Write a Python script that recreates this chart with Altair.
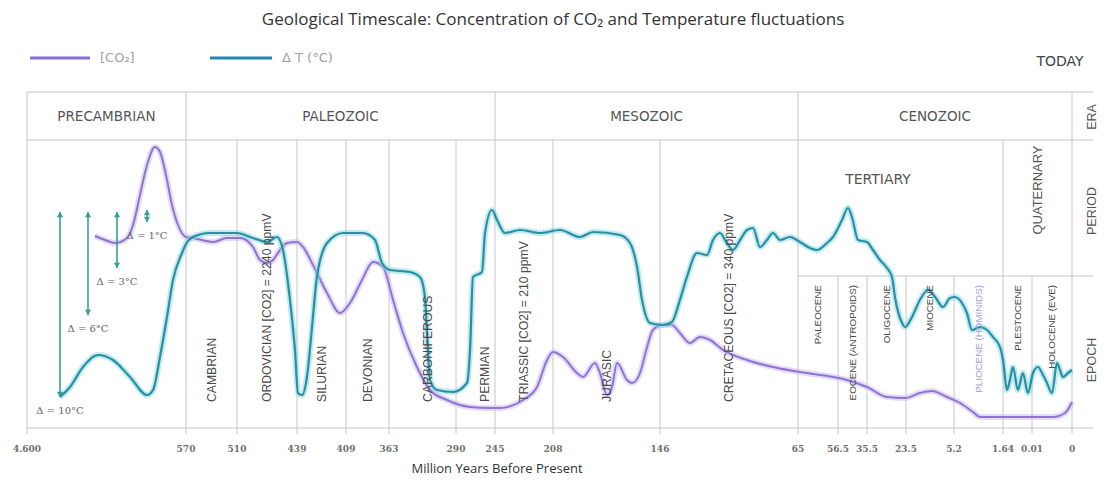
import altair as alt
import numpy as np
import pandas as pd

# ---------------- data ----------------
TICK_MA = [4600, 570, 510, 439, 409, 363, 290, 245, 208, 146, 65, 56.5, 35.5, 23.5, 5.2, 1.64, 0.01, 0]
TICK_LABELS = ["4.600", "570", "510", "439", "409", "363", "290", "245", "208", "146",
               "65", "56.5", "35.5", "23.5", "5.2", "1.64", "0.01", "0"]

ERAS = ["PRECAMBRIAN", "PALEOZOIC", "MESOZOIC", "CENOZOIC"]
ERA_START = [4600, 570, 245, 65]
ERA_END = [570, 245, 65, 0]

PERIODS = ["CAMBRIAN", "ORDOVICIAN [CO2] = 2240 ppmV", "SILURIAN", "DEVONIAN", "CARBONIFEROUS",
           "PERMIAN", "TRIASSIC [CO2] = 210 ppmV", "JURASIC", "CRETACEOUS [CO2] = 340 ppmV"]
PERIOD_START = [570, 510, 439, 409, 363, 290, 245, 208, 146]
PERIOD_END = [510, 439, 409, 363, 290, 245, 208, 146, 65]

CENOZOIC_PERIODS = ["TERTIARY", "QUATERNARY"]
CENOZOIC_PERIOD_START = [65, 1.64]
CENOZOIC_PERIOD_END = [1.64, 0]

EPOCHS = ["PALEOCENE", "EOCENE (ANTROPOIDS)", "OLIGOCENE", "MIOCENE",
          "PLIOCENE (HOMINIDS)", "PLESTOCENE", "HOLOCENE (EVE)"]
EPOCH_START = [65, 56.5, 35.5, 23.5, 5.2, 1.64, 0.01]
EPOCH_END = [56.5, 35.5, 23.5, 5.2, 1.64, 0.01, 0]

# [CO2] curve (million years before present, relative level)
CO2_MA = [2876, 2623, 2370, 2065, 1913, 1736, 1558, 1356, 1229, 1077, 925, 773, 570, 561.8, 538.2,
          521.8, 506.5, 491.1, 482.8, 474.5, 467.4, 459.1, 450.8, 439, 435.3, 429.2, 420.6, 412.7,
          404.7, 391.9, 380.1, 369.4, 358.6, 347.7, 332.5, 318.3, 299.8, 273.8, 250.8, 241.8, 227.1,
          218.2, 211.8, 208, 202.2, 194.1, 190.6, 183.7, 180.8, 176.7, 173.8, 170.9, 165.1, 162.2,
          157.6, 153.5, 150.1, 144.8, 139, 134.3, 128.4, 122.5, 116.6, 109, 94.9, 79.7, 64.6, 50,
          35.5, 29.35, 23.8, 18.2, 13.6, 7.9, 4.76, 3.82, 3.31, 1.08, 0.00475, 0.00175, 0]
CO2_LEVEL = [19.2, 18.8, 18.5, 19.0, 20.3, 23.3, 26.3, 28.1, 27.6, 25.3, 22.3, 20.3, 19.1, 19.0, 18.6,
             19.0, 19.0, 18.1, 16.8, 16.5, 16.8, 17.8, 18.5, 18.6, 18.1, 16.3, 13.5, 11.5,
             12.5, 14.8, 16.6, 16.1, 12.8, 9.5, 6.1, 3.8, 2.8, 2.1, 2.0, 2.0, 2.8,
             4.1, 6.8, 7.6, 7.1, 5.5, 5.1, 6.5, 5.5, 3.3, 4.1, 6.5, 4.8, 4.5,
             5.5, 8.1, 9.8, 10.3, 10.3, 9.5, 8.5, 9.1, 8.8, 7.8, 6.8, 6.1, 5.6, 4.8,
             4.1, 3.1, 3.0, 3.5, 3.7, 3.1, 2.5, 1.6, 1.1, 1.1, 1.1, 1.5, 2.6]

# Delta T curve (million years before present, relative level)
DT_MA = [3764, 3510, 3181, 2800, 2420, 1989, 1558, 1406, 1229, 1052, 899, 671, 570, 561.8, 541.8,
         510, 491.1, 474.5, 462.7, 455.6, 447.3, 441.4, 438.4, 435.9, 432.9, 429.8, 426.8, 420.6,
         410.8, 390.8, 378, 370.5, 361.9, 340.1, 329.2, 323.8, 321.6, 318.3, 310.7, 293.3, 277.3,
         273.8, 270.4, 260, 256.5, 248.5, 243.7, 238.6, 229, 216.3, 203.9, 192.4, 184.8, 169.2,
         163.4, 159.3, 156.4, 151.8, 144.2, 139, 134.3, 130.2, 124.3, 118.4, 114.9, 110.8, 106.7,
         103.1, 99, 94.9, 91.4, 87.3, 83.2, 79.7, 75.6, 69.7, 64.6, 62.45, 60.96, 58.84, 57.56,
         53.6, 49.26, 46.4, 42, 35.5, 33.65, 31.5, 29.35, 27.8, 26.9, 24.7, 23.8, 21.2, 18.2, 15.1,
         12.4, 9.4, 6.7, 5.13, 4.62, 4.26, 3.89, 3.31, 2.8, 2.37, 1.86, 1.64, 1.415, 1.25, 1.08,
         0.80, 0.52, 0.24, 0.00975, 0.0085, 0.00725, 0.00625, 0.005, 0.00375, 0.003, 0.0023,
         0.001, 0]
DT_LEVEL = [3.1, 4.1, 6.1, 7.3, 6.8, 5.1, 3.3, 3.8, 7.1, 11.1, 14.8, 17.5, 18.4, 19.1, 19.5,
            19.5, 19.0, 18.6, 19.1, 17.8, 12.8, 7.8, 3.5, 3.3, 5.1, 10.1, 15.1, 18.5,
            19.5, 19.5, 18.8, 16.5, 15.8, 15.6, 15.1, 13.1, 9.5, 4.8, 3.8, 3.6, 4.5,
            7.8, 15.1, 15.6, 19.5, 21.8, 20.8, 19.5, 19.8, 19.5, 19.8, 19.1, 19.6, 19.3,
            18.5, 16.1, 12.8, 10.5, 10.3, 10.6, 12.8, 15.1, 17.5, 17.3, 18.8, 19.5, 18.5,
            17.8, 18.8, 19.8, 20.0, 18.1, 18.8, 19.5, 18.8, 19.1, 18.6, 18.0, 17.8, 18.5, 19.1,
            20.8, 22.0, 21.1, 18.8, 18.6, 17.8, 16.8, 16.0, 15.1, 13.1, 10.5, 10.1, 11.1, 12.8, 13.8,
            13.1, 12.1, 13.0, 13.1, 12.5, 11.5, 9.8, 10.1, 9.8, 9.1, 8.1, 6.8, 3.8, 4.8, 6.1,
            3.8, 5.5, 3.5, 5.5, 6.1, 5.3, 4.5, 3.5, 6.5, 5.8, 5.1,
            5.5, 5.8]

DELTA_LABELS = ["Δ = 10°C", "Δ = 6°C", "Δ = 3°C", "Δ = 1°C"]
DELTA_MA = [3764, 3054, 2319, 1558]
DELTA_TOP = [21.6, 21.6, 21.6, 21.8]
DELTA_BOTTOM = [3.1, 11.3, 16.0, 20.6]

TITLE = "Geological Timescale: Concentration of CO\u2082 and Temperature fluctuations"
X_TITLE = "Million Years Before Present"
ROW_NAMES = ["ERA", "PERIOD", "EPOCH"]

# ---------------- layout ----------------
W, H = 1066, 336
TICK_PX = [0, 159, 210, 270, 319, 362, 429, 468, 526, 633, 771, 811, 840, 879, 927, 976, 1005, 1045]
LV_TOP, LV_ERA, LV_EPOCH, LV_TICK = 33.6, 28.8, 15.2, -0.6

xscale = alt.Scale(domain=TICK_MA, range=TICK_PX, zero=False, nice=False)
yscale = alt.Scale(domain=[0, LV_TOP], zero=False, nice=False)

def px_of(ma):
    return float(np.interp(ma, TICK_MA[::-1], TICK_PX[::-1]))

def ma_of(px):
    return float(np.interp(px, TICK_PX, TICK_MA))

def mid_ma(a, b, nudge=0):
    return ma_of((px_of(a) + px_of(b)) / 2 + nudge)

GRID = "#c6c6c6"
TXT = "#555555"
NARROW = "Liberation Sans Narrow, Arial Narrow, sans-serif"
SANS = "DejaVu Sans, sans-serif"
OPEN = "Open Sans, sans-serif"

X = lambda f: alt.X(f, type="quantitative", scale=xscale, axis=None)
Y = lambda f: alt.Y(f, type="quantitative", scale=yscale, axis=None)

# frame: horizontal lines
hlines = pd.DataFrame({"start": [4600, 4600, 4600, 65], "level": [LV_TOP, LV_ERA, 0, LV_EPOCH]})
h_layer = alt.Chart(hlines).mark_rule(color=GRID, strokeWidth=1).encode(
    x=X("start"), x2=alt.value(W), y=Y("level"))

# frame: vertical lines
era_b = sorted(set(ERA_START + ERA_END), reverse=True)
per_b = [m for m in PERIOD_START + CENOZOIC_PERIOD_START if m not in era_b]
epo_b = [m for m in EPOCH_START if m not in era_b + per_b]
vlines = pd.DataFrame({
    "ma": era_b + per_b + epo_b,
    "top": [LV_TOP] * len(era_b) + [LV_ERA] * len(per_b) + [LV_EPOCH] * len(epo_b),
    "bot": LV_TICK,
})
v_layer = alt.Chart(vlines).mark_rule(color=GRID, strokeWidth=1).encode(
    x=X("ma"), y=Y("top"), y2="bot")

# curves
co2 = pd.DataFrame({"ma": CO2_MA, "level": CO2_LEVEL, "o": range(len(CO2_MA))})
dt = pd.DataFrame({"ma": DT_MA, "level": DT_LEVEL, "o": range(len(DT_MA))})

def curve(df, color, width, opacity=1.0):
    return alt.Chart(df).mark_line(color=color, strokeWidth=width, opacity=opacity,
                                   interpolate="monotone").encode(
        x=X("ma"), y=Y("level"), order="o:Q")

curves = [
    curve(co2, "#cdbdf3", 6, 0.55), curve(co2, "#8f74d3", 2.0),
    curve(dt, "#8ad9e8", 6, 0.55), curve(dt, "#2a8f9f", 2.2),
]

# delta arrows
arrows = pd.DataFrame({"ma": DELTA_MA, "top": DELTA_TOP, "bottom": DELTA_BOTTOM, "label": DELTA_LABELS})
ACOL = "#3a9e97"
arrow_shaft = alt.Chart(arrows).mark_rule(color=ACOL, strokeWidth=1.6).encode(
    x=X("ma"), y=Y("top"), y2="bottom")
head_up = alt.Chart(arrows).mark_point(shape="triangle-up", filled=True, color=ACOL, size=38,
                                       opacity=1, yOffset=2.5).encode(x=X("ma"), y=Y("top"))
head_dn = alt.Chart(arrows).mark_point(shape="triangle-down", filled=True, color=ACOL, size=38,
                                       opacity=1, yOffset=-2.5).encode(x=X("ma"), y=Y("bottom"))
arrow_text = alt.Chart(arrows).mark_text(font="DejaVu Serif, serif", fontSize=10, color="#666666",
                                         align="center", baseline="middle", dy=14).encode(
    x=X("ma"), y=Y("bottom"), text="label:N")

# tick labels
ticks = pd.DataFrame({"ma": TICK_MA, "label": TICK_LABELS})
tick_text = alt.Chart(ticks).mark_text(font="DejaVu Serif, serif", fontSize=9, fontWeight="bold",
                                       color="#707070", baseline="middle").encode(
    x=X("ma"), y=alt.value(H + 21), text="label:N")

# era / period / epoch labels
eras = pd.DataFrame({"label": ERAS, "ma": [mid_ma(a, b) for a, b in zip(ERA_START, ERA_END)]})
era_text = alt.Chart(eras).mark_text(font=SANS, fontSize=13.5, color=TXT, baseline="middle").encode(
    x=X("ma"), y=alt.value(25), text="label:N")

nudges = {"CARBONIFEROUS": 5, "PERMIAN": 9}
periods = pd.DataFrame({"label": PERIODS,
                        "ma": [mid_ma(a, b, nudges.get(n, 0)) for n, a, b in zip(PERIODS, PERIOD_START, PERIOD_END)]})
period_text = alt.Chart(periods).mark_text(font=NARROW, fontSize=12.2, color="#4a4a4a", angle=270,
                                           align="left", baseline="middle").encode(
    x=X("ma"), y=alt.value(310), text="label:N")

epochs = pd.DataFrame({"label": EPOCHS, "ma": [mid_ma(a, b) for a, b in zip(EPOCH_START, EPOCH_END)],
                       "c": ["#4a4a4a"] * 4 + ["#a7a1d6"] + ["#4a4a4a"] * 2})
epoch_text = alt.Chart(epochs).mark_text(font=NARROW, fontSize=9.8, angle=270,
                                         align="right", baseline="middle").encode(
    x=X("ma"), y=alt.value(193), text="label:N", color=alt.Color("c:N", scale=None))

tertiary = alt.Chart(pd.DataFrame({"label": [CENOZOIC_PERIODS[0]]})).mark_text(
    font=SANS, fontSize=14, color=TXT, baseline="middle").encode(
    x=alt.value(851), y=alt.value(88), text="label:N")
quaternary = alt.Chart(pd.DataFrame({"label": [CENOZOIC_PERIODS[1]],
                                     "ma": [mid_ma(CENOZOIC_PERIOD_START[1], CENOZOIC_PERIOD_END[1])]})).mark_text(
    font=NARROW, fontSize=13, color=TXT, angle=270, align="center", baseline="middle").encode(
    x=X("ma"), y=alt.value(98), text="label:N")

rows = pd.DataFrame({"label": ROW_NAMES, "py": [25, 119, 268]})
row_text = alt.Chart(rows).mark_text(font=NARROW, fontSize=12.5, color=TXT, angle=270,
                                     align="center", baseline="middle").encode(
    x=alt.value(W - 1), y=alt.Y("py:Q", scale=None), text="label:N")

# title, legend, TODAY, axis title
def label(txt, x, y, **kw):
    return alt.Chart(pd.DataFrame({"label": [txt]})).mark_text(baseline="middle", **kw).encode(
        x=alt.value(x), y=alt.value(y), text="label:N")

title = label(TITLE, 526, -72, font=OPEN, fontSize=17, color="#333333")
today = label("TODAY", 1033, -30, font=SANS, fontSize=14, color="#444444")
xtitle = label(X_TITLE, 470, H + 41, font=OPEN, fontSize=13, color="#333333")
leg_co2_t = label("[CO\u2082]", 73, -34, font=SANS, fontSize=13, color="#a0a0a0", align="left")
leg_dt_t = label("\u0394 T (\u00b0C)", 255, -34, font=SANS, fontSize=13, color="#a0a0a0", align="left")
leg_co2_l = alt.Chart(pd.DataFrame({"k": [0]})).mark_rule(color="#8a6fd6", strokeWidth=3).encode(
    x=alt.value(3), x2=alt.value(63), y=alt.value(-34))
leg_dt_l = alt.Chart(pd.DataFrame({"k": [0]})).mark_rule(color="#2585ab", strokeWidth=3).encode(
    x=alt.value(183), x2=alt.value(245), y=alt.value(-34))

chart = alt.layer(
    h_layer, v_layer, *curves, arrow_shaft, head_up, head_dn, arrow_text, tick_text,
    era_text, period_text, epoch_text, tertiary, quaternary, row_text,
    title, today, xtitle, leg_co2_t, leg_dt_t, leg_co2_l, leg_dt_l,
).properties(
    width=W, height=H,
    autosize=alt.AutoSizeParams(type="none"),
    padding={"left": 19, "top": 84, "right": 6, "bottom": 50},
    background="white",
).configure_view(stroke=None)

chart.save("out.html", embed_options={"renderer": "svg", "actions": False})
